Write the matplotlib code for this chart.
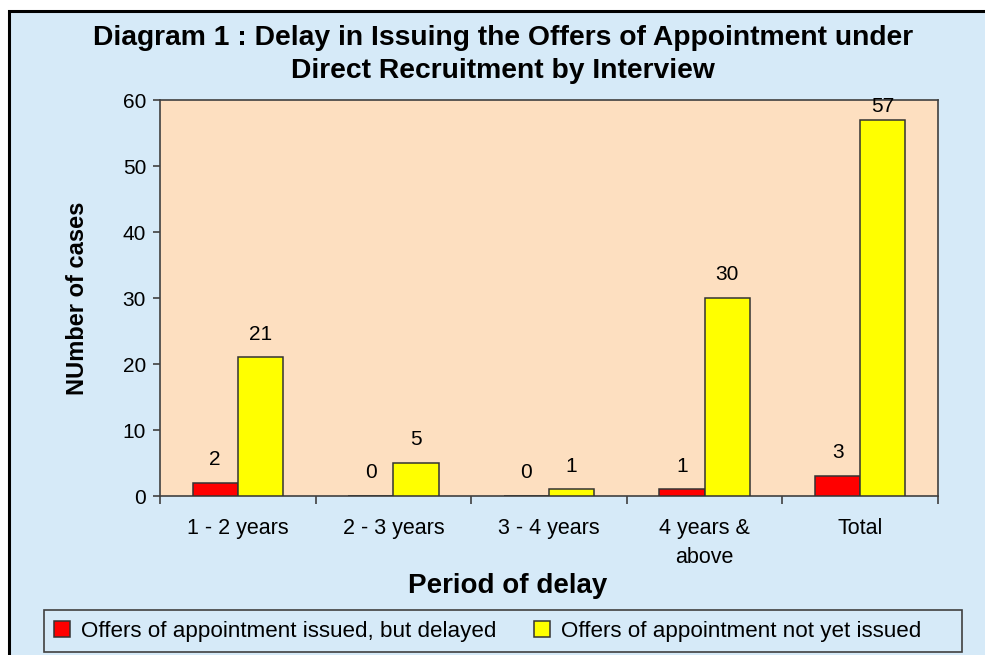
import matplotlib
matplotlib.use("Agg")
import matplotlib.pyplot as plt
import numpy as np
from matplotlib.patches import Rectangle

plt.rcParams['font.family'] = ['Liberation Sans', 'DejaVu Sans']

categories = ["1 - 2 years", "2 - 3 years", "3 - 4 years", "4 years &\nabove", "Total"]
issued_delayed = [2, 0, 0, 1, 3]
not_yet_issued = [21, 5, 1, 30, 57]
series_names = ["Offers of appointment issued, but delayed",
                "Offers of appointment not yet issued"]
yticks = [0, 10, 20, 30, 40, 50, 60]

W, H = 985, 655
fig = plt.figure(figsize=(W / 100, H / 100), dpi=100, facecolor="white")

bg = "#D6EAF8"
fig.patches.append(Rectangle((9 / W, -0.05), 1.1, 1.05 - 11 / H,
                             transform=fig.transFigure, facecolor=bg,
                             edgecolor="black", linewidth=2.2, zorder=-10))
fig.patches.append(Rectangle((44 / W, 1 - 652 / H), (962 - 44) / W, 42 / H,
                             transform=fig.transFigure, facecolor="none",
                             edgecolor="#404040", linewidth=1.2, zorder=-5))

ax = fig.add_axes([160 / W, 1 - 496 / H, (938 - 160) / W, (496 - 100) / H])
ax.set_facecolor("#FDDFC0")

x = np.arange(len(categories))
bw = 0.29
b1 = ax.bar(x - bw / 2, issued_delayed, bw, color="#FF0000", edgecolor="#333333", linewidth=1.1, zorder=3)
b2 = ax.bar(x + bw / 2, not_yet_issued, bw, color="#FFFF00", edgecolor="#333333", linewidth=1.1, zorder=3)

ax.set_xlim(-0.5, len(categories) - 0.5)
ax.set_ylim(0, 60)

# data labels: placed above the bar, kept inside the plot area like the source
px_per_unit = (496 - 100) / 60.0
for bars, vals in ((b1, issued_delayed), (b2, not_yet_issued)):
    for rect, v in zip(bars, vals):
        room_pt = (60 - v) * px_per_unit * 0.72
        off = 10 if room_pt > 28 else 3
        ax.annotate(str(v), (rect.get_x() + rect.get_width() / 2, v),
                    xytext=(0, off), textcoords="offset points",
                    ha="center", va="bottom", fontsize=15, color="black")

ax.set_yticks(yticks)
ax.tick_params(axis="y", labelsize=15, length=5, width=1.2, color="#404040", pad=5)

ax.set_xticks(np.arange(len(categories) + 1) - 0.5)
ax.set_xticklabels([])
ax.set_xticks(x, minor=True)
ax.set_xticklabels(categories, minor=True, fontsize=15.5, linespacing=1.5)
ax.tick_params(axis="x", which="major", length=6, width=1.2, color="#404040")
ax.tick_params(axis="x", which="minor", length=0, pad=16)

for s in ax.spines.values():
    s.set_color("#404040")
    s.set_linewidth(1.2)

ax.set_ylabel("NUmber of cases", fontsize=17, fontweight="bold")
ax.yaxis.set_label_coords((78 - 160) / 778, 0.5)
ax.set_xlabel("Period of delay", fontsize=20, fontweight="bold")
ax.xaxis.set_label_coords((508 - 160) / 778, -(586 - 496) / 396)
ax.xaxis.label.set_va("center")
ax.yaxis.label.set_va("center")

fig.text(503 / W, 1 - 38 / H, "Diagram 1 : Delay in Issuing the Offers of Appointment under",
         ha="center", va="center", fontsize=20.3, fontweight="bold")
fig.text(503 / W, 1 - 71 / H, "Direct Recruitment by Interview",
         ha="center", va="center", fontsize=20.3, fontweight="bold")

leg = fig.legend([b1, b2], series_names, loc="center left", ncol=2,
                 bbox_to_anchor=(54 / W, 1 - 631 / H),
                 fontsize=16.1, frameon=False,
                 handlelength=0.7, handleheight=0.7, handletextpad=0.5,
                 columnspacing=1.7, borderaxespad=0, borderpad=0)

fig.savefig("out.png", dpi=100, facecolor="white")
